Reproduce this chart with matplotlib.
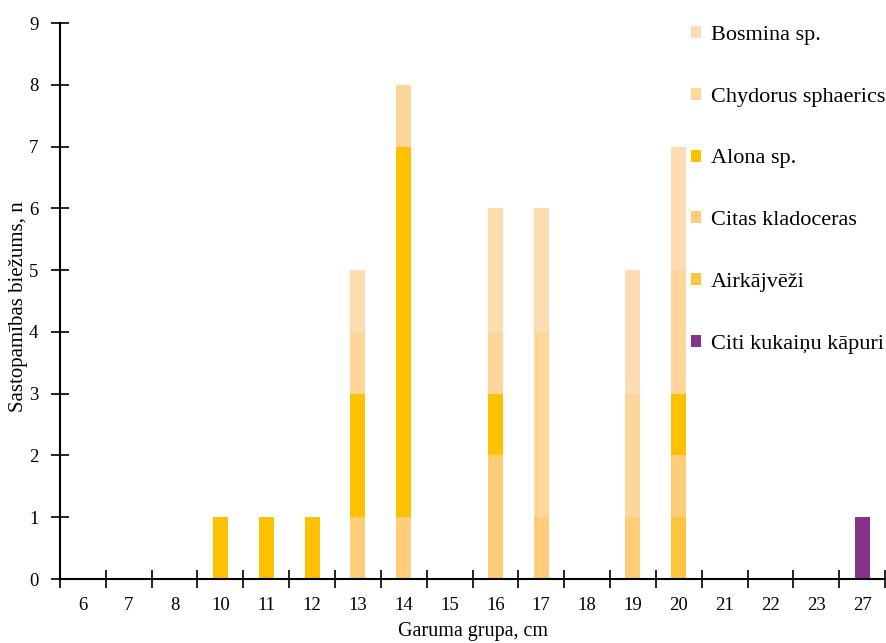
import matplotlib
matplotlib.use("Agg")
import matplotlib.pyplot as plt
from matplotlib.patches import Patch
import numpy as np

plt.rcParams['font.family'] = ['Liberation Serif', 'DejaVu Serif']

categories = ['6', '7', '8', '10', '11', '12', '13', '14', '15', '16', '17', '18', '19', '20', '21', '22', '23', '27']

# stacked from bottom to top
citi_kukainu = [0, 0, 0, 0, 0, 0, 0, 0, 0, 0, 0, 0, 0, 0, 0, 0, 0, 1]
airkajveezi  = [0, 0, 0, 0, 0, 0, 0, 0, 0, 0, 0, 0, 0, 1, 0, 0, 0, 0]
citas_klad   = [0, 0, 0, 0, 0, 0, 1, 1, 0, 2, 1, 0, 1, 1, 0, 0, 0, 0]
alona        = [0, 0, 0, 1, 1, 1, 2, 6, 0, 1, 0, 0, 0, 1, 0, 0, 0, 0]
chydorus     = [0, 0, 0, 0, 0, 0, 1, 1, 0, 1, 3, 0, 2, 2, 0, 0, 0, 0]
bosmina      = [0, 0, 0, 0, 0, 0, 1, 0, 0, 2, 2, 0, 2, 2, 0, 0, 0, 0]

series = [
    ('Citi kukaiņu kāpuri', citi_kukainu, '#86338A'),
    ('Airkājvēži', airkajveezi, '#FFC540'),
    ('Citas kladoceras', citas_klad, '#FFCD7A'),
    ('Alona sp.', alona, '#FFC000'),
    ('Chydorus sphaerics', chydorus, '#FFD699'),
    ('Bosmina sp.', bosmina, '#FFDDB2'),
]

fig = plt.figure(figsize=(8.86, 6.43), dpi=100)
ax = fig.add_axes([0.0677, 0.0995, 0.9312, 0.8647])

x = np.arange(len(categories))
bottom = np.zeros(len(categories))
for name, vals, col in series:
    v = np.array(vals, dtype=float)
    ax.bar(x, v, bottom=bottom, width=0.33, color=col, linewidth=0)
    bottom += v

ax.set_xlim(-0.5, len(categories) - 0.5)
ax.set_ylim(0, 9)
ax.set_yticks(range(10))
ax.set_xticks(x)
ax.set_xticklabels(categories)
ax.set_xticks(np.arange(-0.5, len(categories)), minor=True)
ax.tick_params(axis='x', which='major', length=0, pad=13, labelsize=13.5)
ax.tick_params(axis='x', which='minor', direction='inout', length=13, width=1.2)
ax.tick_params(axis='y', which='major', direction='inout', length=13, width=1.2, pad=9, labelsize=13.5)
for s in ['top', 'right']:
    ax.spines[s].set_visible(False)
for s in ['left', 'bottom']:
    ax.spines[s].set_linewidth(1.5)

ax.set_xlabel('Garuma grupa, cm', fontsize=14.5, labelpad=6)
ax.set_ylabel('Sastopamības biežums, n', fontsize=15, labelpad=0)
ax.yaxis.set_label_coords(-0.039, 0.49)

handles = [Patch(facecolor=col, label=name) for name, vals, col in reversed(series)]
leg = fig.legend(handles=handles, loc='upper left', bbox_to_anchor=(0.780, 0.960),
                 frameon=False, fontsize=16, handlelength=0.45, handleheight=0.45,
                 handletextpad=0.45, labelspacing=1.93, borderpad=0, borderaxespad=0)

fig.savefig('out.png', dpi=100)
